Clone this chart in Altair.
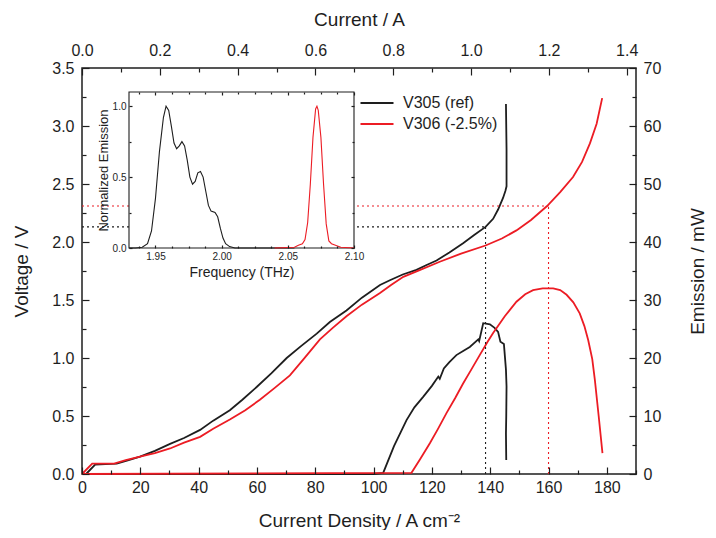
import altair as alt
import pandas as pd

FONT = "Liberation Sans"
INK = "#1e1e1e"
RED = "#ec1c24"

series = ["V305 (ref)", "V306 (-2.5%)"]

# ---- Voltage vs current density ----
v305_j = [1.4, 4.5, 8.0, 11.9, 16.0, 19.9, 25.0, 30.2, 35.0, 40.5,
          45.0, 50.7, 55.0, 59.9, 65.0, 70.2, 75.0, 80.5, 85.0, 90.7,
          96.0, 102.2, 105.6, 110.0, 114.7, 118.0, 121.6, 126.0, 130.7, 134.5,
          138.4, 141.0, 142.7, 144.4, 145.2, 145.6, 145.6, 145.4]
v305_v = [0.0, 0.08, 0.085, 0.09, 0.12, 0.15, 0.20, 0.26, 0.31, 0.38,
          0.46, 0.55, 0.64, 0.75, 0.87, 1.00, 1.10, 1.21, 1.31, 1.41,
          1.52, 1.63, 1.67, 1.72, 1.76, 1.80, 1.84, 1.91, 1.99, 2.06,
          2.13, 2.20, 2.28, 2.38, 2.44, 2.48, 2.80, 3.19]

v306_j = [0.0, 3.5, 7.0, 11.0, 15.0, 19.9, 25.0, 30.2, 35.0, 40.5,
          45.0, 50.7, 56.0, 61.0, 66.0, 71.3, 76.0, 81.6, 86.0, 90.7,
          96.0, 102.2, 106.0, 110.2, 116.0, 122.7, 130.0, 138.4, 144.0, 149.0,
          154.0, 159.5, 164.0, 168.4, 171.5, 174.2, 176.5, 178.4]
v306_v = [0.0, 0.09, 0.09, 0.09, 0.12, 0.15, 0.18, 0.22, 0.27, 0.32,
          0.39, 0.47, 0.55, 0.64, 0.74, 0.85, 0.99, 1.16, 1.26, 1.36,
          1.46, 1.56, 1.63, 1.70, 1.76, 1.83, 1.90, 1.97, 2.03, 2.10,
          2.19, 2.31, 2.43, 2.56, 2.69, 2.85, 3.02, 3.24]

# ---- Emission vs current density ----
e305_j = [0.0, 20.0, 40.0, 60.0, 80.0, 100.0, 103.3, 107.0, 111.3, 114.0,
          117.0, 120.0, 122.2, 122.7, 124.1, 126.0, 128.4, 131.0, 133.0, 135.9,
          136.2, 137.6, 139.9, 141.5, 142.7, 143.5, 144.7, 145.4, 145.6, 145.5,
          145.4, 145.5]
e305_p = [0.0, 0.0, 0.0, 0.0, 0.0, 0.0, 0.2, 4.8, 9.3, 11.5,
          13.3, 15.2, 16.8, 16.4, 18.2, 19.3, 20.5, 21.3, 21.9, 23.2,
          22.9, 26.0, 25.8, 25.2, 24.5, 22.8, 22.4, 18.0, 15.1, 10.0,
          7.0, 2.4]

e306_j = [0.0, 113.0, 116.0, 119.3, 122.0, 125.0, 128.0, 130.7, 133.5, 136.4,
          139.0, 141.0, 145.0, 149.0, 152.0, 154.7, 158.0, 161.6, 164.0, 166.2,
          168.5, 170.7, 172.3, 173.6, 175.0, 175.9, 177.2, 178.5]
e306_p = [0.0, 0.2, 2.6, 5.3, 7.7, 10.5, 13.1, 15.6, 18.0, 20.5,
          22.7, 24.3, 27.2, 29.7, 31.0, 31.7, 32.0, 32.0, 31.7, 30.9,
          29.6, 27.7, 25.5, 23.1, 19.8, 16.2, 10.0, 3.6]

# operating points (dotted guides)
op305 = (138.4, 2.13)
op306 = (160.0, 2.31)

# ---- inset spectra ----
s305_f = [1.930, 1.935, 1.940, 1.944, 1.947, 1.950, 1.953, 1.956, 1.958, 1.960,
          1.962, 1.964, 1.966, 1.968, 1.970, 1.972, 1.974, 1.976, 1.978, 1.980,
          1.982, 1.984, 1.986, 1.988, 1.990, 1.992, 1.995, 1.997, 1.999, 2.001,
          2.003, 2.006, 2.010, 2.040, 2.055]
s305_n = [0.0, 0.0, 0.005, 0.03, 0.12, 0.35, 0.68, 0.92, 1.0, 0.97,
          0.86, 0.74, 0.70, 0.72, 0.75, 0.72, 0.62, 0.50, 0.45, 0.47,
          0.53, 0.54, 0.50, 0.40, 0.30, 0.26, 0.25, 0.22, 0.14, 0.07,
          0.03, 0.01, 0.0, 0.0, 0.0]
s306_f = [2.040, 2.055, 2.058, 2.061, 2.063, 2.065, 2.067, 2.069, 2.071, 2.072,
          2.073, 2.075, 2.077, 2.079, 2.081, 2.083, 2.086, 2.090, 2.100]
s306_n = [0.0, 0.005, 0.02, 0.03, 0.06, 0.18, 0.45, 0.78, 0.98, 1.0,
          0.97, 0.78, 0.45, 0.17, 0.05, 0.03, 0.02, 0.005, 0.0]

# axis ticks
j_major = list(range(0, 181, 20))
j_minor = list(range(10, 191, 20))
v_major = [0.0, 0.5, 1.0, 1.5, 2.0, 2.5, 3.0, 3.5]
v_minor = [0.25, 0.75, 1.25, 1.75, 2.25, 2.75, 3.25]
p_major = [0, 10, 20, 30, 40, 50, 60, 70]
p_minor = [5, 15, 25, 35, 45, 55, 65]
i_major = [0.0, 0.2, 0.4, 0.6, 0.8, 1.0, 1.2, 1.4]
i_minor = [0.1, 0.3, 0.5, 0.7, 0.9, 1.1, 1.3]
f_major = [1.95, 2.00, 2.05, 2.10]
f_minor = [1.9375, 1.9625, 1.975, 1.9875, 2.0125, 2.025, 2.0375, 2.0625, 2.075, 2.0875]
n_major = [0.0, 0.5, 1.0]
n_minor = [0.25, 0.75]

J_DOM = [0, 190]
V_DOM = [0, 3.5]
P_DOM = [0, 70]
I_DOM = [0, 1.424]
F_DOM = [1.93, 2.10]
N_DOM = [0, 1.1]

W, H = 554, 406

# ---- frames ----
def mk(xs, ys, names):
    rows = []
    for name, x, y in zip(names, xs, ys):
        for i, (a, b) in enumerate(zip(x, y)):
            rows.append({"series": name, "i": i, "x": a, "y": b})
    return pd.DataFrame(rows)

volt_df = mk([v305_j, v306_j], [v305_v, v306_v], series)
emis_df = mk([e305_j, e306_j], [e305_p, e306_p], series)
spec_df = mk([s305_f, s306_f], [s305_n, s306_n], series)

guide_black = pd.DataFrame({
    "x": [0, op305[0]], "x2": [op305[0], op305[0]],
    "y": [op305[1], 0], "y2": [op305[1], op305[1]]})
guide_red = pd.DataFrame({
    "x": [0, op306[0]], "x2": [op306[0], op306[0]],
    "y": [op306[1], 0], "y2": [op306[1], op306[1]]})
cur_df = pd.DataFrame({"x": i_major, "y": [0] * len(i_major)})
box_df = pd.DataFrame({"x": [F_DOM[0]], "x2": [F_DOM[1]], "y": [N_DOM[0]], "y2": [N_DOM[1]]})

color_scale = alt.Scale(domain=series, range=[INK, RED])


def ax(orient, values, offset, size, labels=False, title=None, fmt=None,
       lsize=16, lpad=5, tsize=19, tpad=8, **kw):
    d = dict(orient=orient, values=values, offset=offset, tickSize=size,
             domain=False, grid=False, ticks=True, labels=labels,
             tickColor=INK, tickWidth=1.2, labelFont=FONT, labelFontSize=lsize,
             labelColor=INK, labelPadding=lpad, labelFlush=False,
             labelOverlap=False, titleFont=FONT, titleFontSize=tsize,
             titleFontWeight="normal", titleColor=INK, titlePadding=tpad,
             title=title, zindex=2)
    if fmt:
        d["format"] = fmt
    d.update(kw)
    return alt.Axis(**d)


def sc(dom, rng=None):
    if rng is None:
        return alt.Scale(domain=dom, nice=False, zero=False)
    return alt.Scale(domain=dom, range=rng, nice=False, zero=False)


# main voltage curves
volt = alt.Chart(volt_df).mark_line(strokeWidth=1.8).encode(
    x=alt.X("x:Q", scale=sc(J_DOM),
            axis=ax("bottom", j_major, -7, 7, labels=True,
                    title="Current Density / A cm\u207b\u00b2", lpad=5, tpad=16)),
    y=alt.Y("y:Q", scale=sc(V_DOM),
            axis=ax("left", v_major, -7, 7, labels=True, title="Voltage / V",
                    fmt=".1f", lpad=8, tpad=20)),
    color=alt.Color("series:N", scale=color_scale,
                    legend=alt.Legend(title=None, orient="none", legendX=287, legendY=27,
                                      symbolType="M-3,0H3", symbolSize=121,
                                      symbolStrokeWidth=2, labelFont=FONT,
                                      labelFontSize=16, labelColor=INK,
                                      labelOffset=18, rowPadding=5, padding=0)),
    order=alt.Order("i:Q"),
)

# emission curves (right axis)
emis = alt.Chart(emis_df).mark_line(strokeWidth=1.8).encode(
    x=alt.X("x:Q", scale=sc(J_DOM), axis=ax("bottom", j_minor, -4, 4)),
    y=alt.Y("y:Q", scale=sc(P_DOM),
            axis=ax("right", p_major, -7, 7, labels=True, title="Emission / mW",
                    lpad=7, tpad=47, titleAngle=270)),
    color=alt.Color("series:N", scale=color_scale, legend=None),
    order=alt.Order("i:Q"),
)

g_black = alt.Chart(guide_black).mark_rule(color=INK, strokeWidth=1.1, strokeDash=[2, 3]).encode(
    x=alt.X("x:Q", scale=sc(J_DOM), axis=None), x2="x2:Q",
    y=alt.Y("y:Q", scale=sc(V_DOM), axis=ax("left", v_minor, -4, 4)), y2="y2:Q",
)
g_red = alt.Chart(guide_red).mark_rule(color=RED, strokeWidth=1.1, strokeDash=[2, 3]).encode(
    x=alt.X("x:Q", scale=sc(J_DOM), axis=None), x2="x2:Q",
    y=alt.Y("y:Q", scale=sc(V_DOM), axis=None), y2="y2:Q",
)

# top current axis
cur_major = alt.Chart(cur_df).mark_point(opacity=0).encode(
    x=alt.X("x:Q", scale=sc(I_DOM),
            axis=ax("top", i_major, -7, 7, labels=True, title="Current / A",
                    fmt=".1f", lpad=10, tpad=13)),
    y=alt.Y("y:Q", scale=sc(P_DOM), axis=ax("right", p_minor, -4, 4)),
)
cur_minor = alt.Chart(cur_df).mark_point(opacity=0).encode(
    x=alt.X("x:Q", scale=sc(I_DOM), axis=ax("top", i_minor, -4, 4)),
    y=alt.Y("y:Q", scale=sc(P_DOM), axis=None),
)

# inset
IX = [47, 272]
IY = [180, 24]
box = alt.Chart(box_df).mark_rect(fill="white", stroke=INK, strokeWidth=1.1).encode(
    x=alt.X("x:Q", scale=sc(F_DOM, IX),
            axis=ax("bottom", f_major, -(H - IY[0]) - 3, 3, labels=True,
                    title="Frequency (THz)", fmt=".2f", lsize=10, lpad=3,
                    tsize=14, tpad=4)),
    x2="x2:Q",
    y=alt.Y("y:Q", scale=sc(N_DOM, IY),
            axis=ax("left", n_major, -IX[0] - 3, 3, labels=True,
                    title="Normalized Emission", fmt=".1f", lsize=10, lpad=3,
                    tsize=13, tpad=2)),
    y2="y2:Q",
)
spec = alt.Chart(spec_df).mark_line(strokeWidth=1.1).encode(
    x=alt.X("x:Q", scale=sc(F_DOM, IX), axis=ax("top", f_major, -IY[1] - 3, 3)),
    y=alt.Y("y:Q", scale=sc(N_DOM, IY), axis=ax("right", n_major, IX[1] - W - 3, 3)),
    color=alt.Color("series:N", scale=color_scale, legend=None),
    order=alt.Order("i:Q"),
)
spec_minor = alt.Chart(spec_df).mark_point(opacity=0).encode(
    x=alt.X("x:Q", scale=sc(F_DOM, IX), axis=ax("bottom", f_minor, -(H - IY[0]) - 2, 2)),
    y=alt.Y("y:Q", scale=sc(N_DOM, IY), axis=ax("left", n_minor, -IX[0] - 2, 2)),
)
spec_minor2 = alt.Chart(spec_df).mark_point(opacity=0).encode(
    x=alt.X("x:Q", scale=sc(F_DOM, IX), axis=ax("top", f_minor, -IY[1] - 2, 2)),
    y=alt.Y("y:Q", scale=sc(N_DOM, IY), axis=ax("right", n_minor, IX[1] - W - 2, 2)),
)

chart = alt.layer(
    volt, emis, g_black, g_red, cur_major, cur_minor,
    box, spec, spec_minor, spec_minor2
).resolve_scale(
    x="independent", y="independent"
).properties(
    width=W, height=H,
    padding={"left": 74, "top": 60, "right": 72, "bottom": 56},
    autosize=alt.AutoSizeParams(type="none"),
    background="white",
).configure_view(
    stroke=INK, strokeWidth=1.5
)

chart.save("out.html", embed_options={"renderer": "svg", "actions": False})
